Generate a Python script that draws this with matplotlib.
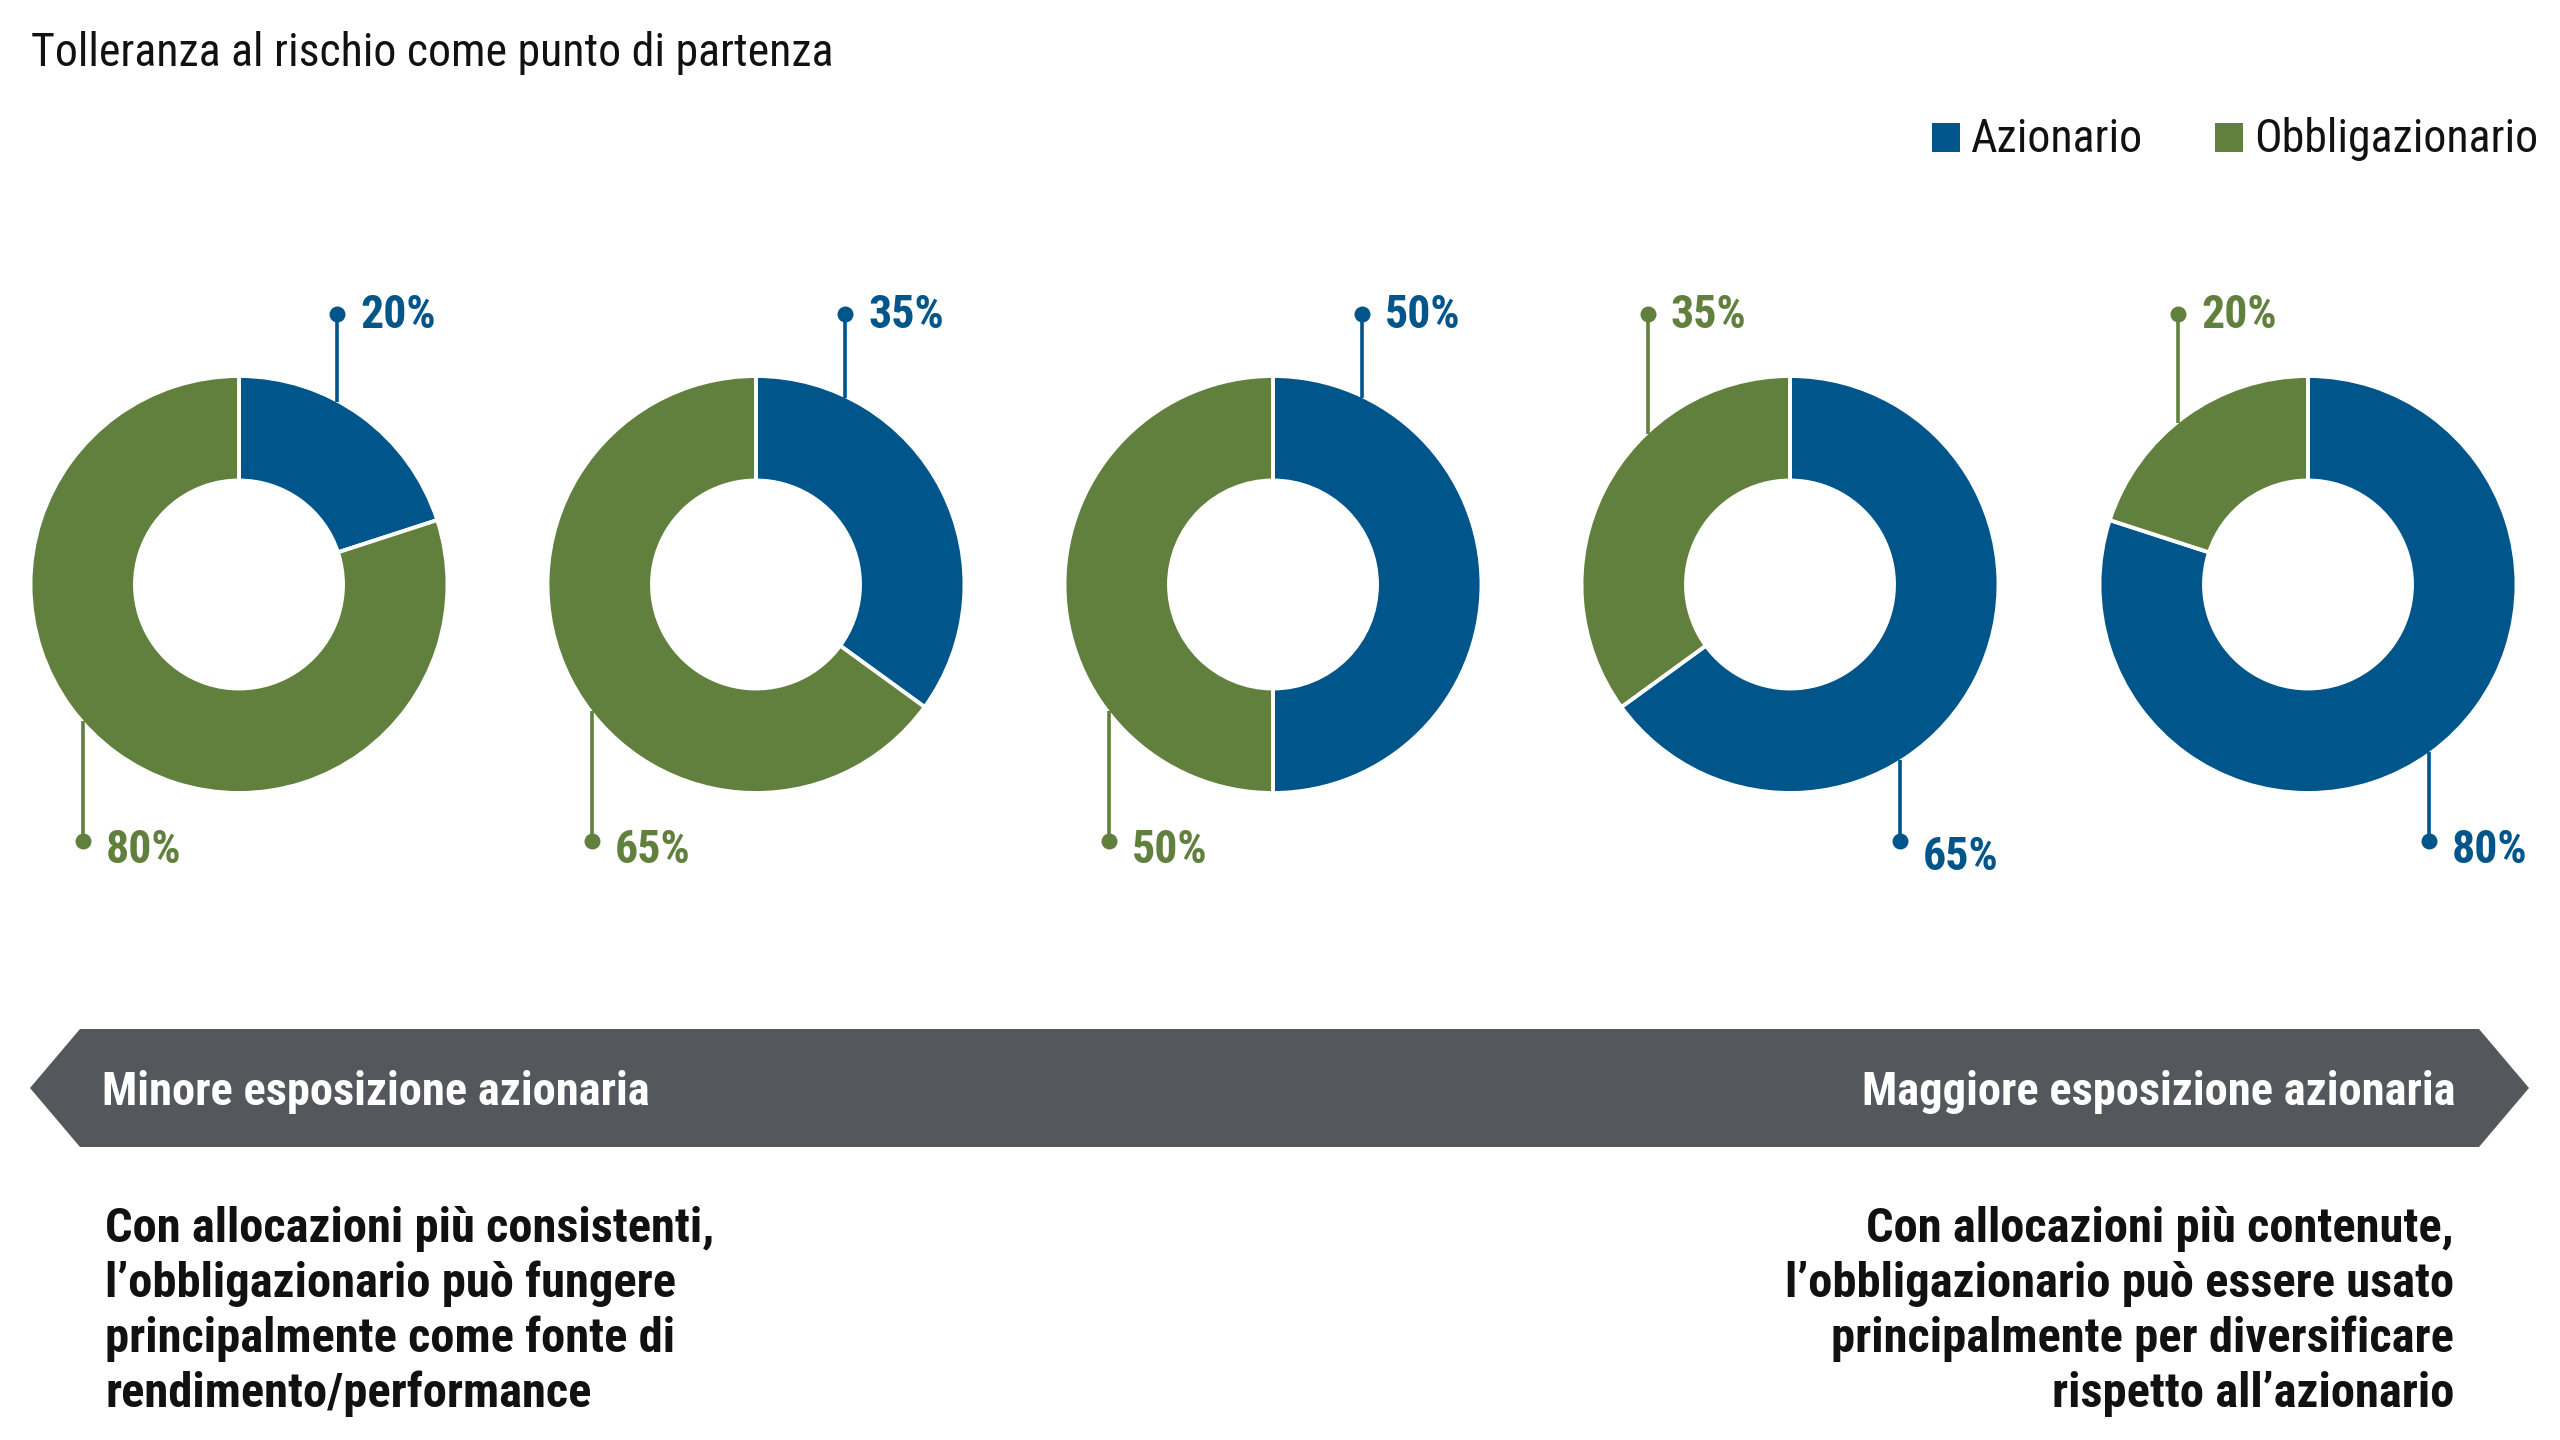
import numpy as np
import matplotlib
matplotlib.use("Agg")
import matplotlib.pyplot as plt
from matplotlib.patches import Polygon, Rectangle

# Data
series = ["Azionario", "Obbligazionario"]
azionario = [20, 35, 50, 65, 80]
obbligazionario = [80, 65, 50, 35, 20]

title = "Tolleranza al rischio come punto di partenza"
arrow_left = "Minore esposizione azionaria"
arrow_right = "Maggiore esposizione azionaria"
note_left = ["Con allocazioni più consistenti,",
             "l’obbligazionario può fungere",
             "principalmente come fonte di",
             "rendimento/performance"]
note_right = ["Con allocazioni più contenute,",
              "l’obbligazionario può essere usato",
              "principalmente per diversificare",
              "rispetto all’azionario"]

# Style / layout (pixels, y measured from the top)
W, H = 2560, 1440
BLUE = "#00558A"
GREEN = "#62803D"
GREY = "#54575C"
INK = "#111111"
FONT = ["Roboto Condensed", "DejaVu Sans"]
colors = [BLUE, GREEN]

centers_x = [239, 756, 1273, 1790, 2308]
center_y = 584.5
R_out = 207
R_in = 104
top_dx = [98, 89, 89, -142, -130]
bot_dx = [-156, -164, -164, 110, 121]
top_dot_y = 314
bot_dot_y = 841
top_base_y = 328
bot_base_y = [863, 863, 863, 870, 863]
note_base_y = 1242
note_step = 55

plt.rcParams["font.family"] = FONT

fig = plt.figure(figsize=(W / 100, H / 100), dpi=100)
ax = fig.add_axes([0, 0, 1, 1])


def Y(y):
    return H - y


# Donuts
for i, cx in enumerate(centers_x):
    ax.pie([azionario[i], obbligazionario[i]], colors=colors, startangle=90,
           counterclock=False, radius=R_out + 1.5, center=(cx, Y(center_y)),
           wedgeprops=dict(width=R_out - R_in + 1.5, edgecolor="white", linewidth=2.8))

    # which series gets the top label / the bottom label
    if azionario[i] <= 50:
        top_val, top_col = azionario[i], BLUE
        bot_val, bot_col = obbligazionario[i], GREEN
    else:
        top_val, top_col = obbligazionario[i], GREEN
        bot_val, bot_col = azionario[i], BLUE

    # top leader
    x = cx + top_dx[i]
    y_arc = center_y - np.sqrt(R_out ** 2 - top_dx[i] ** 2)
    ax.plot([x, x], [Y(top_dot_y), Y(y_arc)], color=top_col, lw=2.6, solid_capstyle="butt")
    ax.plot(x, Y(top_dot_y), "o", color=top_col, ms=11.5, mec="none")
    ax.text(x + 23, Y(top_base_y), f"{top_val}%", color=top_col, fontsize=33,
            fontweight="bold", ha="left", va="baseline")

    # bottom leader
    x = cx + bot_dx[i]
    y_arc = center_y + np.sqrt(R_out ** 2 - bot_dx[i] ** 2)
    ax.plot([x, x], [Y(y_arc), Y(bot_dot_y)], color=bot_col, lw=2.6, solid_capstyle="butt")
    ax.plot(x, Y(bot_dot_y), "o", color=bot_col, ms=11.5, mec="none")
    ax.text(x + 23, Y(bot_base_y[i]), f"{bot_val}%", color=bot_col, fontsize=33,
            fontweight="bold", ha="left", va="baseline")

# Title
ax.text(31, Y(66), title, fontsize=33, color=INK, ha="left", va="baseline")

# Legend
leg_sq_x = [1932, 2215]
for sx, name, c in zip(leg_sq_x, series, colors):
    ax.add_patch(Rectangle((sx, Y(152)), 28, 29, color=c, lw=0))
    ax.text(sx + 39, Y(152), name, fontsize=33, color=INK, ha="left", va="baseline")

# Double-headed banner
banner = Polygon([(30, Y(1088)), (80, Y(1029)), (2479, Y(1029)), (2529, Y(1088)),
                  (2479, Y(1147)), (80, Y(1147))], closed=True, color=GREY, lw=0)
ax.add_patch(banner)
ax.text(102, Y(1105), arrow_left, fontsize=33.5, fontweight="bold", color="white",
        ha="left", va="baseline")
ax.text(2455, Y(1105), arrow_right, fontsize=33.5, fontweight="bold", color="white",
        ha="right", va="baseline")

# Notes under the banner
for k, line in enumerate(note_left):
    ax.text(105, Y(note_base_y + k * note_step), line, fontsize=35, fontweight="bold",
            color=INK, ha="left", va="baseline")
for k, line in enumerate(note_right):
    ax.text(2454, Y(note_base_y + k * note_step), line, fontsize=35, fontweight="bold",
            color=INK, ha="right", va="baseline")

ax.set_xlim(0, W)
ax.set_ylim(0, H)
ax.set_aspect("auto")
ax.axis("off")

fig.savefig("out.png", dpi=100)
